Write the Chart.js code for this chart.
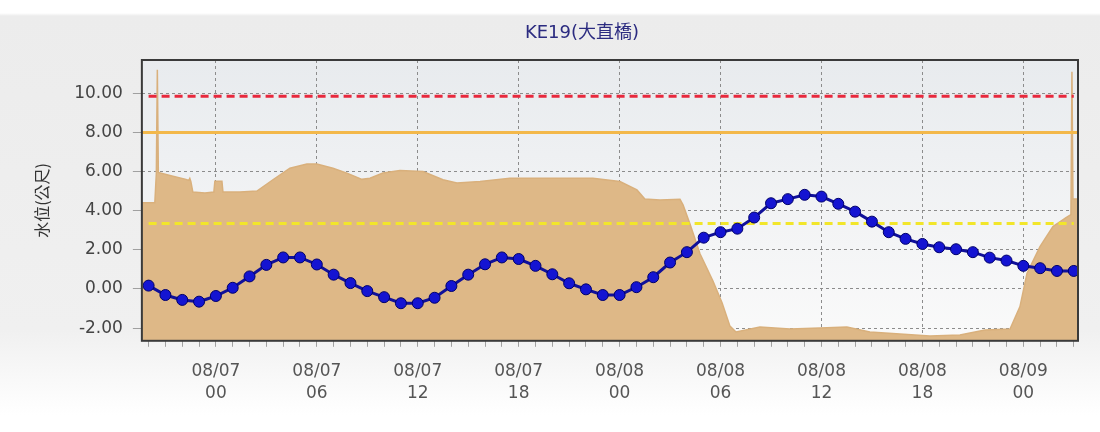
<!DOCTYPE html>
<html>
<head>
<meta charset="utf-8">
<script src="https://cdn.jsdelivr.net/npm/chart.js@4.4.0/dist/chart.umd.min.js"></script>
<style>
  html, body { margin: 0; padding: 0; }
  body {
    width: 1100px; height: 432px;
    background: linear-gradient(to bottom, #ffffff 0px, #ffffff 13px, #ececec 16px, #f0f0f0 330px, #ffffff 415px);
  }
</style>
</head>
<body>
<canvas id="chart" width="1100" height="432"></canvas>
<script>
const stationName = 'KE19(大直橋)'
const yAxisLabel = '水位(公尺)'

// hours counted from 08/07 00:00
const levelHours = [
  -4, -3, -2, -1, 0, 1, 2, 3, 4, 5, 6, 7, 8, 9, 10, 11, 12, 13, 14, 15,
  16, 17, 18, 19, 20, 21, 22, 23, 24, 25, 26, 27, 28, 29, 30, 31, 32, 33, 34, 35,
  36, 37, 38, 39, 40, 41, 42, 43, 44, 45, 46, 47, 48, 49, 50, 51
]
const waterLevel = [
  0.17, -0.31, -0.56, -0.65, -0.36, 0.06, 0.64, 1.23, 1.61, 1.61, 1.25, 0.73, 0.30, -0.11, -0.42, -0.73, -0.73, -0.45, 0.15, 0.73,
  1.26, 1.61, 1.53, 1.18, 0.75, 0.29, -0.02, -0.31, -0.31, 0.09, 0.60, 1.35, 1.88, 2.62, 2.90, 3.08, 3.65, 4.38, 4.59, 4.81,
  4.72, 4.35, 3.95, 3.44, 2.90, 2.56, 2.30, 2.13, 2.03, 1.88, 1.60, 1.45, 1.18, 1.06, 0.92, 0.92
]

// tan background series
const areaHours = [
  -4.40, -3.63, -3.54, -3.48, -3.42, -2.73, -1.78, -1.61, -1.55, -1.49, -1.37, -0.65, -0.12, -0.06, 0.36, 0.42,
  1.43, 2.44, 3.39, 4.40, 5.41, 6.00, 6.96, 7.79, 8.68, 9.16, 9.93, 10.94, 12.31, 13.50, 14.33, 15.70,
  17.48, 22.41, 24.02, 25.03, 25.50, 26.40, 27.59, 27.77, 28.19, 28.78, 29.55, 30.09, 30.56, 30.92,
  32.34, 34.13, 35.91, 37.51, 38.88, 40.67, 42.45, 44.23, 45.72, 47.21, 47.80, 48.22, 48.99, 49.76,
  50.54, 50.83, 50.89, 50.95, 51.25
]
const areaLevel = [
  4.40, 4.40, 5.90, 11.20, 5.95, 5.80, 5.60, 5.55, 5.65, 5.50, 4.95, 4.90, 4.95, 5.50, 5.50, 4.95,
  4.95, 5.00, 5.58, 6.17, 6.39, 6.39, 6.17, 5.92, 5.60, 5.66, 5.92, 6.05, 6.00, 5.58, 5.41, 5.49,
  5.66, 5.66, 5.49, 5.06, 4.60, 4.55, 4.58, 4.30, 3.30, 1.80, 0.40, -0.70, -1.90, -2.20,
  -1.95, -2.05, -2.00, -1.95, -2.20, -2.30, -2.40, -2.35, -2.10, -2.05, -0.90, 0.80, 2.16, 3.19,
  3.65, 3.80, 11.10, 4.60, 4.60
]

const alertLevels = [9.85, 8.0, 3.35]
const alertColors = ['#e8283c', '#f3b84a', '#f2e62a']

const tickHours = [0, 6, 12, 18, 24, 30, 36, 42, 48]
const tickDates = ['08/07', '08/07', '08/07', '08/07', '08/08', '08/08', '08/08', '08/08', '08/09']
const tickTimes = ['00', '06', '12', '18', '00', '06', '12', '18', '00']

const xMin = -4.4
const xMax = 51.25
const yMin = -2.65
const yMax = 11.7

const alertSets = alertLevels.map((v, i) => ({
  data: [{ x: i === 1 ? xMin : levelHours[0], y: v }, { x: i === 1 ? xMax : levelHours[levelHours.length - 1], y: v }],
  borderColor: alertColors[i],
  borderWidth: 3,
  borderDash: i === 1 ? [] : [8, 5],
  pointRadius: 0,
  fill: false,
  order: 1,
}))

const plotFrame = {
  id: 'plotFrame',
  beforeDraw(chart) {
    const { ctx, chartArea: a } = chart
    const g = ctx.createLinearGradient(0, a.top, 0, a.bottom)
    g.addColorStop(0, '#e8ebee')
    g.addColorStop(1, '#fafafa')
    ctx.save()
    ctx.fillStyle = g
    ctx.fillRect(a.left, a.top, a.right - a.left, a.bottom - a.top)
    ctx.restore()
  },
  afterDatasetsDraw(chart) {
    const { ctx, chartArea: a } = chart
    ctx.save()
    ctx.strokeStyle = '#3a3a3a'
    ctx.lineWidth = 2
    ctx.strokeRect(a.left, a.top, a.right - a.left, a.bottom - a.top)
    ctx.restore()
  },
  afterDraw(chart) {
    const { ctx } = chart
    ctx.save()
    ctx.font = '18px "DejaVu Sans", "Noto Sans CJK TC"'
    ctx.fillStyle = '#2b2b80'
    ctx.textAlign = 'center'
    ctx.textBaseline = 'middle'
    ctx.fillText(stationName, 582, 33)
    ctx.restore()
  },
}

new Chart(document.getElementById('chart'), {
  type: 'line',
  data: {
    datasets: [
      {
        data: levelHours.map((h, i) => ({ x: h, y: waterLevel[i] })),
        borderColor: '#10109a',
        borderWidth: 3,
        pointRadius: 5.5,
        pointBackgroundColor: '#1414d2',
        pointBorderColor: '#00006a',
        pointBorderWidth: 1,
        tension: 0,
        fill: false,
        order: 0,
      },
      ...alertSets,
      {
        data: areaHours.map((h, i) => ({ x: h, y: areaLevel[i] })),
        borderColor: '#d9b07c',
        backgroundColor: '#deb887',
        borderWidth: 1.5,
        pointRadius: 0,
        tension: 0,
        fill: 'start',
        order: 2,
      },
    ],
  },
  options: {
    responsive: false,
    animation: false,
    layout: { padding: { top: 60, left: 24, right: 22, bottom: 13 } },
    plugins: { legend: { display: false }, tooltip: { enabled: false } },
    scales: {
      x: {
        type: 'linear',
        min: xMin,
        max: xMax,
        afterBuildTicks: (axis) => { axis.ticks = levelHours.map(v => ({ value: v })) },
        ticks: {
          autoSkip: false,
          maxRotation: 0,
          padding: 14,
          color: '#555',
          font: { family: '"DejaVu Sans"', size: 17, lineHeight: 1.3 },
          callback: (v) => {
            const i = tickHours.indexOf(v)
            return i >= 0 ? [tickDates[i], tickTimes[i]] : ''
          },
        },
        grid: {
          color: (c) => tickHours.includes(c.tick && c.tick.value) ? '#8c8c8c' : 'rgba(0,0,0,0)',
          tickColor: '#a0a0a0',
          tickLength: 6,
          lineWidth: 1,
        },
        border: { display: false, dash: [3, 3] },
      },
      y: {
        min: yMin,
        max: yMax,
        ticks: {
          stepSize: 2,
          includeBounds: false,
          padding: 10,
          color: '#444',
          font: { family: '"DejaVu Sans"', size: 17 },
          callback: (v) => v.toFixed(2),
        },
        title: {
          display: true,
          text: yAxisLabel,
          color: '#333',
          font: { family: '"Noto Sans CJK TC"', size: 16 },
          padding: { top: 8, bottom: 13 },
        },
        grid: { color: '#8c8c8c', tickColor: '#a0a0a0', tickLength: 9, lineWidth: 1 },
        border: { display: false, dash: [3, 3] },
      },
    },
  },
  plugins: [plotFrame],
})
</script>
</body>
</html>
